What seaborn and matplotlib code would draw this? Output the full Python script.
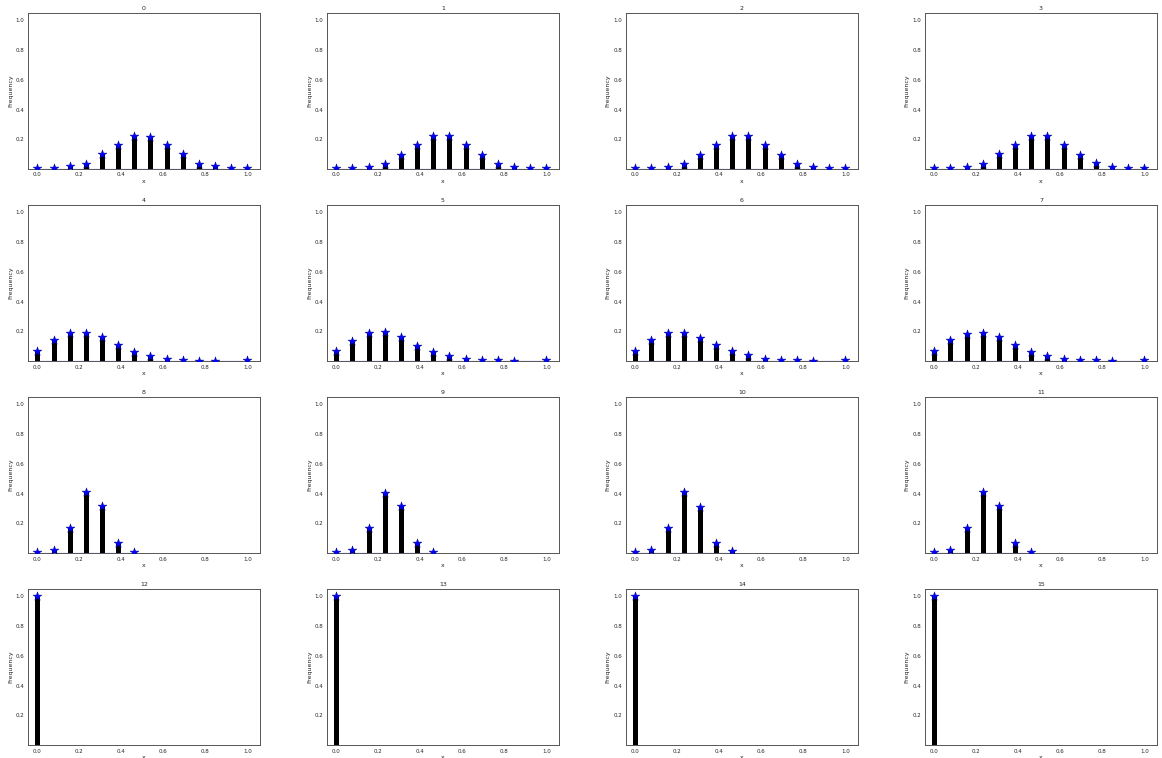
import numpy as np
import pandas as pd
import matplotlib
matplotlib.use("Agg")
import matplotlib.pyplot as plt
import seaborn as sns

# ---- data ----
titles = ["0", "1", "2", "3", "4", "5", "6", "7",
          "8", "9", "10", "11", "12", "13", "14", "15"]

positions = [k / 13 for k in range(14)]

row1_a = [0.010, 0.010, 0.018, 0.037, 0.100, 0.163, 0.225, 0.218, 0.163, 0.100, 0.037, 0.018, 0.010, 0.010]
row1_b = [0.008, 0.008, 0.014, 0.037, 0.093, 0.160, 0.222, 0.222, 0.160, 0.093, 0.037, 0.014, 0.008, 0.008]
row1_c = [0.008, 0.009, 0.016, 0.036, 0.095, 0.162, 0.220, 0.222, 0.162, 0.097, 0.036, 0.014, 0.008, 0.007]
row1_d = [0.008, 0.009, 0.015, 0.037, 0.098, 0.160, 0.222, 0.221, 0.160, 0.097, 0.038, 0.015, 0.008, 0.008]

row2_a = [0.067, 0.140, 0.186, 0.190, 0.159, 0.106, 0.064, 0.037, 0.014, 0.009, 0.003, 0.003, 0.0, 0.005]
row2_b = [0.065, 0.138, 0.188, 0.192, 0.160, 0.104, 0.062, 0.036, 0.015, 0.009, 0.004, 0.003, 0.0, 0.005]
row2_c = [0.066, 0.141, 0.187, 0.189, 0.158, 0.105, 0.065, 0.038, 0.014, 0.008, 0.004, 0.003, 0.0, 0.004]
row2_d = [0.068, 0.139, 0.185, 0.191, 0.160, 0.107, 0.063, 0.036, 0.015, 0.009, 0.004, 0.003, 0.0, 0.005]

row3_a = [0.007, 0.022, 0.170, 0.410, 0.315, 0.067, 0.010, 0, 0, 0, 0, 0, 0, 0]
row3_b = [0.006, 0.024, 0.172, 0.405, 0.318, 0.068, 0.009, 0, 0, 0, 0, 0, 0, 0]
row3_c = [0.008, 0.023, 0.168, 0.412, 0.312, 0.066, 0.011, 0, 0, 0, 0, 0, 0, 0]
row3_d = [0.007, 0.021, 0.171, 0.408, 0.316, 0.069, 0.010, 0, 0, 0, 0, 0, 0, 0]

row4 = [1.0, 0, 0, 0, 0, 0, 0, 0, 0, 0, 0, 0, 0, 0]

series = [row1_a, row1_b, row1_c, row1_d,
          row2_a, row2_b, row2_c, row2_d,
          row3_a, row3_b, row3_c, row3_d,
          row4, row4, row4, row4]

ytick_vals = [0.2, 0.4, 0.6, 0.8, 1.0]
xtick_vals = [0.0, 0.2, 0.4, 0.6, 0.8, 1.0]

# ---- style ----
sns.set_theme(style="white")
plt.rcParams["font.family"] = ["DejaVu Sans"]

fig, axes = plt.subplots(4, 4, figsize=(11.62, 7.58), dpi=100)
fig.subplots_adjust(left=0.024, right=0.9957, top=0.983, bottom=0.017,
                    wspace=0.288, hspace=0.23)

for i, ax in enumerate(axes.flat):
    vals = series[i]
    df = pd.DataFrame({"x": positions, "y": vals})
    df = df[df["y"] > 0]
    ax.vlines(df["x"], 0, df["y"], colors="black", linewidth=3.6, zorder=2)
    ax.plot([df["x"].min(), df["x"].max()], [0, 0], color="blue", lw=0.8, zorder=1)
    sns.scatterplot(data=df, x="x", y="y", ax=ax, marker="*", s=45,
                    color="blue", edgecolor="navy", linewidth=0.3, zorder=3)
    ax.set_xlim(-0.045, 1.06)
    ax.set_ylim(0, 1.05)
    ax.set_yticks(ytick_vals)
    ax.set_xticks(xtick_vals)
    ax.tick_params(labelsize=4, length=1.5, pad=1)
    ax.set_title(titles[i], fontsize=4.5, pad=2)
    ax.set_xlabel("x", fontsize=4.5, labelpad=1)
    ax.set_ylabel("Frequency", fontsize=4.5, labelpad=2)
    for sp in ax.spines.values():
        sp.set_color("#555555")
        sp.set_linewidth(0.7)

fig.savefig("out.png", dpi=100, facecolor="white")
